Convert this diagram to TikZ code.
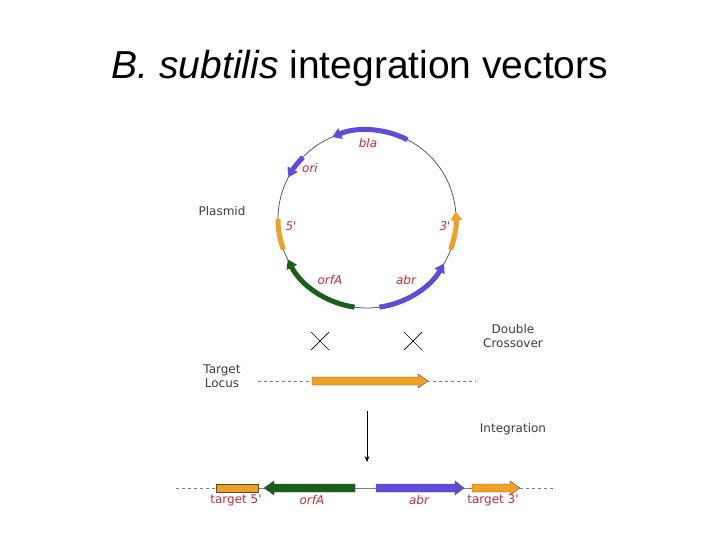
\documentclass[tikz,border=0pt]{standalone}
\usepackage{fontspec}
\setmainfont{Liberation Sans}
\newfontfamily\lblfont{DejaVu Sans}
\usetikzlibrary{arrows.meta}
\definecolor{gblue}{RGB}{95,75,220}
\definecolor{ggreen}{RGB}{25,95,25}
\definecolor{gorange}{RGB}{240,160,35}
\definecolor{gred}{RGB}{190,45,60}
\definecolor{gtext}{RGB}{60,60,60}
\begin{document}
\begin{tikzpicture}[x=1pt,y=-1pt,
  glab/.style={text=gred,font=\lblfont\fontsize{12}{13}\selectfont\itshape,inner sep=0},
  tlab/.style={text=gtext,font=\lblfont\fontsize{12}{14}\selectfont,align=center,inner sep=0},
  gene/.style={line width=5pt,-{Triangle[length=9pt,width=11pt]}},
  geneplain/.style={line width=5pt},
  block/.style={draw=black!70,line width=0.4pt},
  dashline/.style={draw=gray,dashed,line width=0.8pt}]
\useasboundingbox (0,0) rectangle (720,540);
\node (title) at (360,68) {\fontsize{39}{44}\selectfont\textit{B. subtilis} integration vectors};
% plasmid
\coordinate (c) at (367,219);
\draw[gray!70!black,line width=0.8pt] (c) circle[radius=89];
\draw[gene,gblue] ([shift={(-63:89)}]c) arc[start angle=-63,end angle=-113,radius=89];
\draw[gene,gblue] ([shift={(-136:89)}]c) arc[start angle=-136,end angle=-152,radius=89];
\draw[geneplain,gorange] ([shift={(180:89)}]c) arc[start angle=180,end angle=160,radius=89];
\draw[gene,ggreen] ([shift={(98:89)}]c) arc[start angle=98,end angle=153,radius=89];
\draw[gene,gblue] ([shift={(82:89)}]c) arc[start angle=82,end angle=30,radius=89];
\draw[gene,gorange] ([shift={(20:89)}]c) arc[start angle=20,end angle=-5,radius=89];
\node[glab] (bla) at (368,143) {bla};
\node[glab] (ori) at (310,168) {ori};
\node[glab] (p5) at (291,226) {5'};
\node[glab] (p3) at (445,226) {3'};
\node[glab] (porf) at (330,280) {orfA};
\node[glab] (pabr) at (406,280) {abr};
\node[tlab] (plasmid) at (222,211) {Plasmid};
% crossover
\node[tlab] (dc) at (513,336) {Double\\Crossover};
\draw[line width=0.7pt] (311,332) -- (329,350) (311,350) -- (329,332);
\draw[line width=0.7pt] (404,332) -- (422,350) (404,350) -- (422,332);
% target locus
\node[tlab] (tl) at (222,376) {Target\\Locus};
\coordinate (tla) at (258,381); \coordinate (tlb) at (476,381);
\draw[dashline] (tla) -- (312,381); \draw[dashline] (427,381) -- (tlb);
\filldraw[fill=gorange,block] (312,377) -- (418,377) -- (418,374) -- (428,381) -- (418,388) -- (418,385) -- (312,385) -- cycle;
% integration
\coordinate (ia) at (367,411); \coordinate (ib) at (367,462);
\draw[line width=0.7pt,-{Stealth[length=6pt,width=5pt]}] (ia) -- (ib);
\node[tlab] (int) at (513,429) {Integration};
% bottom row
\draw[dashline] (176,488) -- (216,488); \draw[dashline] (520,488) -- (556,488);
\draw[gray,line width=0.8pt] (258,488) -- (472,488);
\filldraw[fill=gorange,block] (216,484) rectangle (258,492);
\filldraw[fill=ggreen,block] (355,484) -- (274,484) -- (274,481) -- (264,488) -- (274,495) -- (274,492) -- (355,492) -- cycle;
\filldraw[fill=gblue,block] (376,484) -- (455,484) -- (455,481) -- (464,488) -- (455,495) -- (455,492) -- (376,492) -- cycle;
\filldraw[fill=gorange,block] (472,484) -- (510,484) -- (510,481) -- (520,488) -- (510,495) -- (510,492) -- (472,492) -- cycle;
\node[glab,font=\lblfont\fontsize{12}{13}\selectfont] (t5) at (236,500) {target 5'};
\node[glab] (borf) at (312,500) {orfA};
\node[glab] (babr) at (419,500) {abr};
\node[glab,font=\lblfont\fontsize{12}{13}\selectfont] (t3) at (493,500) {target 3'};
\end{tikzpicture}
\end{document}
